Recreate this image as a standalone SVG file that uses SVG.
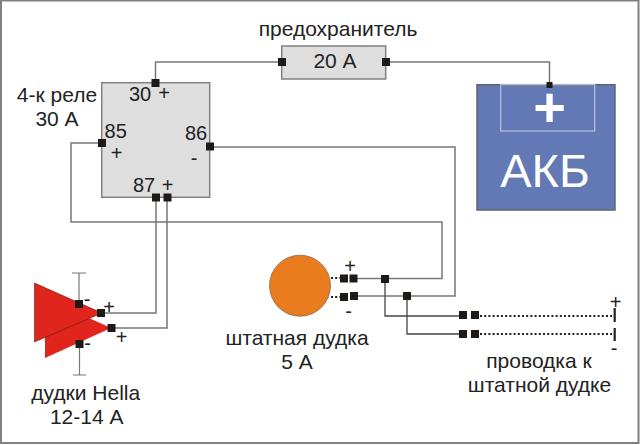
<svg xmlns="http://www.w3.org/2000/svg" width="640" height="445" viewBox="0 0 640 445">
<style>
text{font-family:"Liberation Sans",Arial,sans-serif;font-size:21px;fill:#222;text-anchor:middle}
text.n{font-size:20px}
.w{fill:none;stroke:#777;stroke-width:1.5}
.d{fill:none;stroke:#444;stroke-width:1.3}
.dot{fill:none;stroke:#222;stroke-width:2;stroke-dasharray:2 2.2}
.t{fill:#1e1a18}
.box{fill:#dedede;stroke:#808080;stroke-width:1.5}
.horn{fill:#e0251d}
.bar{fill:none;stroke:#777;stroke-width:1.2}
</style>
<rect x="1" y="0.500" width="637.500" height="442.500" fill="#fff" stroke="#808080" stroke-width="2"/>
<g id="connectors">
<path class="w" d="M155.500 82V62H282M386 62H549.500V85"/>
<path class="w" d="M102 143H71V222H442V278.500H355"/>
<path class="w" d="M209 147H455V296H355"/>
<path class="w" d="M156 197V313H102M167 197V328H111"/>
<path class="d" d="M385 279V316H463M407 296V334H463"/>
<path class="dot" d="M331 278H340M331 297H340M480 316H612M480 334H612"/>
</g>
<g id="fuse">
<rect class="box" x="281.700" y="46" width="104" height="33"/>
<rect class="t" x="278" y="58" width="8" height="8"/>
<rect class="t" x="382" y="58" width="8" height="8"/>
<text x="335" y="68">20 А</text>
<text x="338" y="36">предохранитель</text>
</g>
<g id="relay">
<rect class="box" x="101.700" y="82.700" width="108" height="114.600"/>
<rect class="t" x="151.500" y="79" width="8" height="8"/>
<rect class="t" x="98" y="139" width="8" height="8"/>
<rect class="t" x="206" y="142.500" width="8" height="8"/>
<rect class="t" x="152" y="193.500" width="8" height="8"/>
<rect class="t" x="163.500" y="193.500" width="8" height="8"/>
<text class="n" x="140" y="100.500">30</text><text class="n" x="164" y="100">+</text>
<text class="n" x="115.700" y="138">85</text><text class="n" x="116.500" y="160">+</text>
<text class="n" x="196" y="140">86</text><text class="n" x="194" y="165">-</text>
<text class="n" x="144" y="192">87</text><text class="n" x="167.700" y="192">+</text>
<text x="57" y="101.500">4-к реле</text>
<text x="57" y="125.500">30 А</text>
</g>
<g id="battery">
<rect x="477" y="84.700" width="138" height="125.300" fill="#6379b5" stroke="#5d6570" stroke-width="1.500"/>
<rect x="500.700" y="84.700" width="94" height="46.300" fill="none" stroke="#b9c2dc" stroke-width="1.200"/>
<rect class="t" x="546.500" y="82" width="6" height="6"/>
<text x="549.500" y="126" style="font-size:56px;fill:#fff;font-weight:bold">+</text>
<text x="545" y="187" style="font-size:47px;fill:#fff">АКБ</text>
</g>
<g id="hella">
<path class="bar" d="M79 273V304M72 273H86M79.500 344V375M73 375H86"/>
<polygon class="horn" points="45,298 45,358 111,328"/>
<polygon class="horn" points="34.500,283 34.500,342 102,313" stroke="#5a1a14" stroke-width="0.600"/>
<rect class="t" x="75" y="300" width="8" height="8"/>
<rect class="t" x="97" y="309" width="8" height="8"/>
<rect class="t" x="107.500" y="324" width="8" height="8"/>
<rect class="t" x="75.500" y="340" width="8" height="8"/>
<text class="n" x="87" y="306">-</text><text class="n" x="109" y="313.500">+</text>
<text class="n" x="121.700" y="343.500">+</text><text class="n" x="87.700" y="350">-</text>
<text x="85.700" y="400">дудки Hella</text>
<text x="86.700" y="423.500">12-14 А</text>
</g>
<g id="horn-stock">
<circle cx="300" cy="285.700" r="30.500" fill="#e87c1e" stroke="#8a6a50" stroke-width="0.800"/>
<rect class="t" x="340" y="274.500" width="8" height="8"/>
<rect class="t" x="349.500" y="274.500" width="8" height="8"/>
<rect class="t" x="340" y="293" width="8" height="8"/>
<rect class="t" x="350" y="292" width="8" height="8"/>
<rect class="t" x="381" y="275" width="8" height="8"/>
<rect class="t" x="403" y="292" width="8" height="8"/>
<text class="n" x="350" y="273">+</text><text class="n" x="348.700" y="318">-</text>
<text x="297" y="345">штатная дудка</text>
<text x="297" y="369">5 А</text>
</g>
<g id="wiring">
<rect class="t" x="459" y="311" width="8" height="8"/>
<rect class="t" x="471" y="311" width="8" height="8"/>
<rect class="t" x="459" y="330" width="8" height="8"/>
<rect class="t" x="471" y="330" width="8" height="8"/>
<path d="M614.700 308V322M614.700 328V341" stroke="#222" stroke-width="2.200" fill="none"/>
<text class="n" x="615.700" y="309">+</text><text class="n" x="614" y="355">-</text>
<text x="539" y="368">проводка к</text>
<text x="539.500" y="392">штатной дудке</text>
</g>
</svg>
